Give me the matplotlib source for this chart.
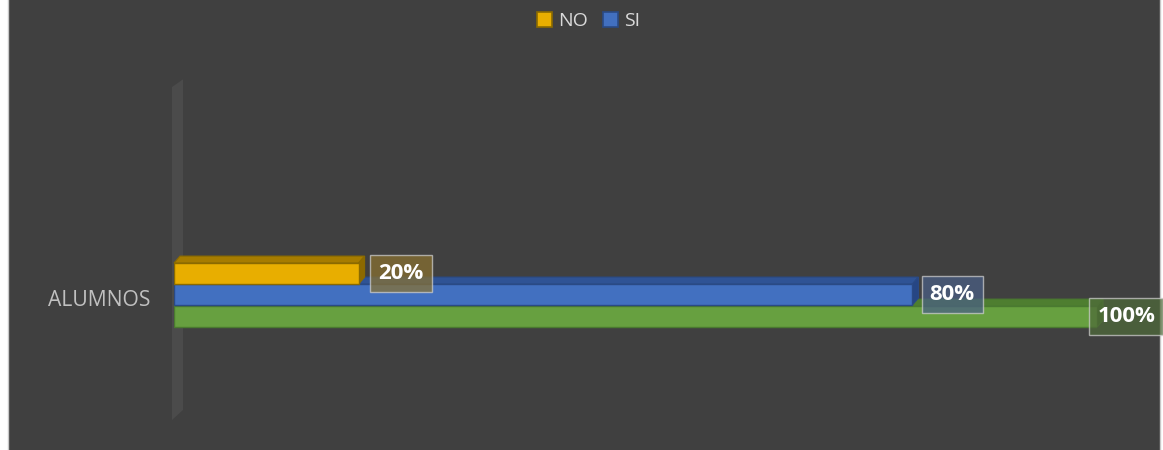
import matplotlib
matplotlib.use("Agg")
import matplotlib.pyplot as plt
from matplotlib.patches import Polygon, Rectangle, Patch

# ---- data ----
categories = ["ALUMNOS"]
series_names = ["NO", "SI", "TOTAL"]
series_values = [20, 80, 100]
value_labels = ["20%", "80%", "100%"]
legend_names = ["NO", "SI"]

# ---- styles ----
front_colors = ["#E8AE00", "#4270C0", "#67A040"]
top_colors = ["#A67C00", "#2F5395", "#4E7E30"]
side_colors = ["#8C6900", "#264684", "#3F6A26"]
edge_colors = ["#8A6A00", "#2A4A85", "#4A7A30"]
box_colors = ["#8A7230", "#4A5F86", "#4F6A3A"]
offsets = [[10, 0], [8, 0], [-4, 0]]  # label offset in points
bar_pos = [-1.0, 0.0, 1.05]
bar_h = 1.0
dx, dy = 0.65, 0.33   # 3D depth in data units

plt.rcParams['font.family'] = ['Open Sans', 'DejaVu Sans']

fig = plt.figure(figsize=(11.63, 4.50), dpi=100, facecolor="white")
fig.patches.append(Rectangle((7.5 / 1163, -0.01), (1152) / 1163, 1.02,
                             transform=fig.transFigure, facecolor="#404040",
                             edgecolor="#c8c8c8", lw=1.0, zorder=-5))

ax = fig.add_axes([174 / 1163, 32 / 450, 923 / 1163, 336 / 450])
ax.set_facecolor("none")
ax.set_xlim(0, 100)
ax.set_ylim(5.88, -10.12)
for s in ax.spines.values():
    s.set_visible(False)
ax.set_xticks([])
ax.set_yticks([0.15])
ax.set_yticklabels(categories, color="#c0c0c0", fontsize=15.2)
ax.tick_params(axis="y", length=0, pad=17)

# back wall (3D floor strip)
wall = Polygon([(-2 / 923, 0.985), (-2 / 923, -0.006), (9 / 923, 0.024), (9 / 923, 1.008)],
               closed=True, transform=ax.transAxes, facecolor="#4b4b4b",
               edgecolor="none", clip_on=False, zorder=1)
ax.add_patch(wall)

# draw bars back-to-front: green, blue, yellow
order = [2, 1, 0]
z = 2
for i in order:
    v = series_values[i]
    yc = bar_pos[i]
    top = yc - bar_h / 2
    bot = yc + bar_h / 2
    ax.add_patch(Polygon([(0, top), (v, top), (v + dx, top - dy), (0 + dx, top - dy)],
                         closed=True, facecolor=top_colors[i], edgecolor=edge_colors[i],
                         lw=0.8, zorder=z, clip_on=False))
    ax.add_patch(Polygon([(v, top), (v, bot), (v + dx, bot - dy), (v + dx, top - dy)],
                         closed=True, facecolor=side_colors[i], edgecolor=edge_colors[i],
                         lw=0.8, zorder=z, clip_on=False))
    ax.barh([yc], [v], height=bar_h, left=0, color=front_colors[i],
            edgecolor=edge_colors[i], lw=1.0, zorder=z + 0.5)
    z += 1

# value labels
for i in range(3):
    ax.annotate(value_labels[i], xy=(series_values[i] + dx, bar_pos[i]),
                xytext=offsets[i], textcoords="offset points",
                ha="left", va="center", fontsize=16, fontweight="bold", color="white",
                bbox=dict(boxstyle="square,pad=0.36", facecolor=box_colors[i], alpha=0.72,
                          edgecolor="#d0d0d0", lw=1.0),
                zorder=10, annotation_clip=False)

# legend
handles = [Patch(facecolor=front_colors[k], edgecolor=edge_colors[k], lw=1.2)
           for k in range(len(legend_names))]
fig.legend(handles, legend_names, loc="center", bbox_to_anchor=(0.506, 0.953), ncol=2,
           frameon=False, fontsize=14, labelcolor="#d9d9d9", handlelength=0.77,
           handleheight=0.77, handletextpad=0.3, columnspacing=0.77)

fig.savefig("out.png", dpi=100, facecolor=fig.get_facecolor())
